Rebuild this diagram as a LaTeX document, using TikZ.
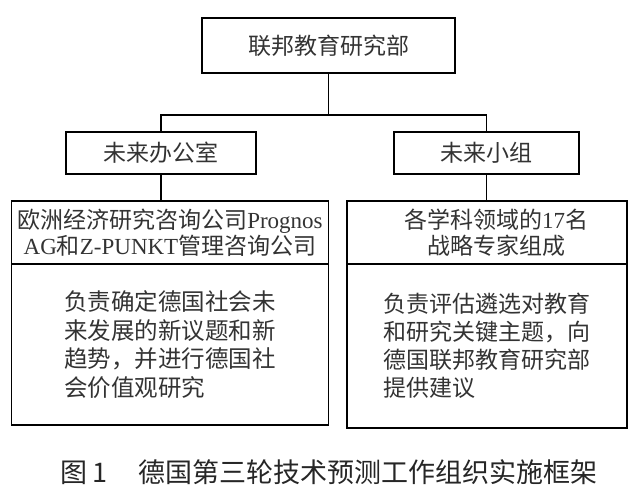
\documentclass[tikz,border=0pt]{standalone}
\usepackage{fontspec}
\newfontfamily\cjk{Noto Sans CJK SC}
\newfontfamily\lat{Liberation Serif}
\usepackage{tikz}
\usetikzlibrary{positioning}

\begin{document}
\begin{tikzpicture}
            [x=1pt,y=-1pt,line width=1.2pt,every node/.style={draw, rectangle, inner sep = 0pt, text=black!80, font=\cjk\fontsize{23}{26}\selectfont}]
          \useasboundingbox (0,0) rectangle (640,501);

          \node[minimum width = 253pt, minimum height = 55pt] (v1) at (328.5,45.5) {联邦教育研究部};

          \node[minimum width = 190pt, minimum height = 42pt] (n2) at (161,153) {未来办公室};
          \node[minimum width = 185pt, minimum height = 42pt] (n3) at (486.5,153) {未来小组};

          \node[minimum width = 316.5pt, minimum height = 63pt, align=center] (n4) at (170,232.5) {欧洲经济研究咨询公司{\lat Prognos}\\{\lat AG}和{\lat Z-PUNKT}管理咨询公司};
          \node[minimum width = 280pt, minimum height = 63pt, align=center] (n5) at (487,232.5) {\hspace*{18pt}各学科领域的{\lat 17}名\\\hspace*{18pt}战略专家组成};

          \node[minimum width = 316.5pt, minimum height = 161pt, align=left, font=\cjk\fontsize{23.5}{28.5}\selectfont] (n6) at (170,344.5) {负责确定德国社会未\\来发展的新议题和新\\趋势，并进行德国社\\会价值观研究};
          \node[minimum width = 280pt, minimum height = 164pt, align=left, font=\cjk\fontsize{23}{28}\selectfont] (n7) at (487,346) {负责评估遴选对教育\\和研究关键主题，向\\德国联邦教育研究部\\提供建议};

          \node[draw=none, text=black!85, font=\cjk\fontsize{27}{30}\selectfont] (cap) at (329,472) {图\hspace{5pt}1\hspace{31pt}德国第三轮技术预测工作组织实施框架};

          \coordinate (j1) at (328.5,115);
          \draw (v1) -- (j1);
          \draw (n2.north) |- (j1) -| (n3.north);

          \foreach \from/\to in {n2/n4, n3/n5}
            \draw (\from.south) -- (\from.south |- \to.north);
        \end{tikzpicture}
\end{document}
